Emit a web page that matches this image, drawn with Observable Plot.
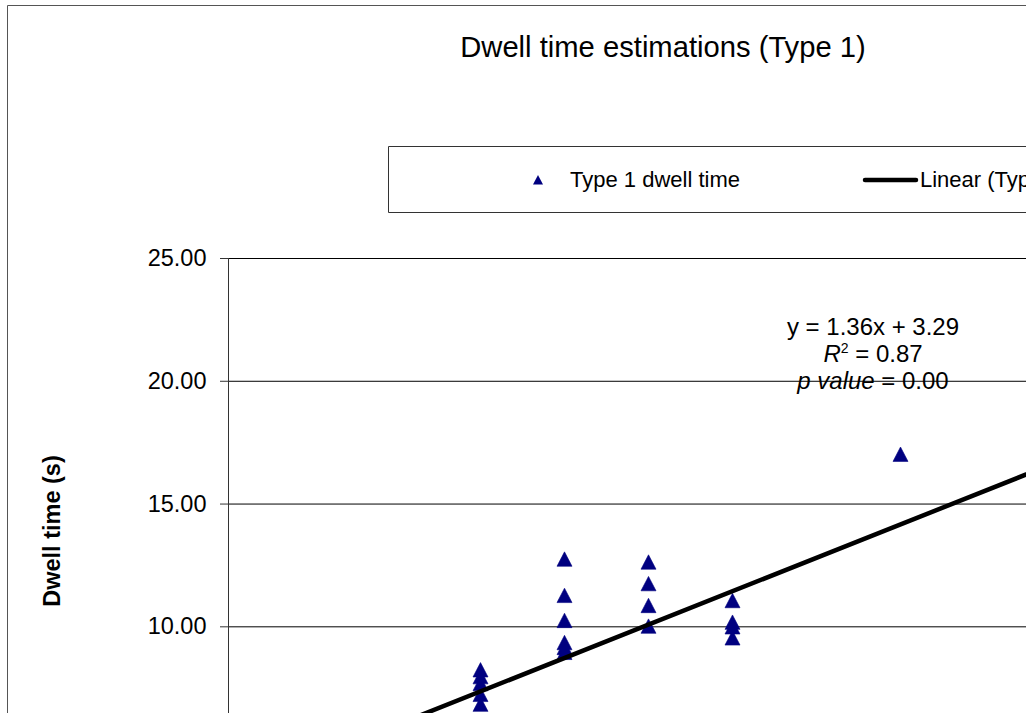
<!DOCTYPE html>
<html><head><meta charset="utf-8">
<script src="https://cdn.jsdelivr.net/npm/d3@7"></script>
<script src="https://cdn.jsdelivr.net/npm/@observablehq/plot@0.6"></script>
<style>
html,body{margin:0;padding:0;background:#fff;overflow:hidden;}
#chart svg{display:block;overflow:hidden;}
</style></head><body><div id="chart"></div>
<script>
// ---- data ----
const chartTitle = "Dwell time estimations (Type 1)";
const yLabel = "Dwell time (s)";
const seriesName = "Type 1 dwell time";
const trendName = "Linear (Type 1 dwell time)";
const yTicks = [10, 15, 20, 25];
const xValues = [3, 3, 3, 3, 3, 4, 4, 4, 4, 4, 4, 5, 5, 5, 5, 6, 6, 6, 6, 8];
const yValues = [8.25, 7.97, 7.69, 7.25, 6.85, 12.76, 11.28, 10.26, 9.36, 9.16, 8.96, 12.64, 11.76, 10.87, 10.03, 11.07, 10.19, 10.0, 9.55, 17.03];
const trendSlope = 1.36;
const trendIntercept = 3.29;
const trendRange = [0, 10];
const rSquared = 0.87;
const pValue = 0.00;

// ---- tables ----
const points = xValues.map((x, i) => ({x, y: yValues[i]}));
const trend = trendRange.map(x => ({x, y: trendSlope * x + trendIntercept}));

const W = 1026, H = 713;
const FONT = "'Liberation Sans', Arial, Helvetica, sans-serif";
const NAVY = "#000080";

const triangle = {
  draw(ctx) {
    ctx.moveTo(0, -7.2);
    ctx.lineTo(7.5, 7.2);
    ctx.lineTo(-7.5, 7.2);
    ctx.closePath();
  }
};

const svg = Plot.plot({
  width: W, height: H,
  marginTop: 258, marginLeft: 228, marginRight: 0, marginBottom: 0,
  style: {fontFamily: FONT, fontSize: "23.5px", color: "#000", background: "#fff", overflow: "hidden"},
  x: {domain: [0, 9.5], axis: null},
  y: {domain: [6.47, 25], axis: null},
  marks: [
    Plot.gridY(yTicks, {stroke: "#000", strokeOpacity: 1, strokeWidth: 1}),
    Plot.axisY(yTicks, {tickFormat: d => d.toFixed(2), tickSize: 8, tickPadding: 14, label: null, stroke: "#333", fill: "#000"}),
    Plot.ruleX([0], {stroke: "#333", strokeWidth: 1}),
    Plot.dot(points, {x: "x", y: "y", symbol: triangle, fill: NAVY, stroke: NAVY, strokeWidth: 0.6, clip: true}),
    Plot.line(trend, {x: "x", y: "y", stroke: "#000", strokeWidth: 4.5, clip: true})
  ]
});

const g = d3.select(svg);
// outer chart frame (left + top edges visible)
g.append("path").attr("d", `M7.5,${H}V5.5H${W}`).attr("fill", "none").attr("stroke", "#555").attr("stroke-width", 1);

// title
g.append("text").attr("x", 663).attr("y", 57).attr("text-anchor", "middle")
  .attr("font-family", FONT).attr("font-size", 29.2).attr("fill", "#000").text(chartTitle);

// legend box
const lg = g.append("g").attr("text-anchor", "start").attr("font-family", FONT).attr("font-size", 22).attr("fill", "#000");
lg.append("path").attr("d", `M${W},146.5H388.5V212.5H${W}`).attr("fill", "#fff").attr("stroke", "#333").attr("stroke-width", 1);
lg.append("path").attr("d", "M538,175L543,184.5L533,184.5Z").attr("fill", NAVY);
lg.append("text").attr("x", 570).attr("y", 187).text(seriesName);
lg.append("line").attr("x1", 865).attr("x2", 916).attr("y1", 180).attr("y2", 180)
  .attr("stroke", "#000").attr("stroke-width", 4.5).attr("stroke-linecap", "round");
lg.append("text").attr("x", 920).attr("y", 187).text(trendName);

// trendline equation
const eq = g.append("g").attr("font-family", FONT).attr("font-size", 24).attr("fill", "#000").attr("text-anchor", "middle");
eq.append("text").attr("x", 873).attr("y", 335)
  .text(`y = ${trendSlope.toFixed(2)}x + ${trendIntercept.toFixed(2)}`);
const r2 = eq.append("text").attr("x", 873).attr("y", 362);
r2.append("tspan").attr("font-style", "italic").text("R");
r2.append("tspan").attr("font-size", 14).attr("dy", -9).text("2");
r2.append("tspan").attr("dy", 9).text(` = ${rSquared.toFixed(2)}`);
const pv = eq.append("text").attr("x", 873).attr("y", 389);
pv.append("tspan").attr("font-style", "italic").text("p value");
pv.append("tspan").text(` = ${pValue.toFixed(2)}`);

// y axis label
g.append("text").attr("transform", "translate(60,531) rotate(-90)").attr("text-anchor", "middle")
  .attr("font-family", FONT).attr("font-size", 23.5).attr("font-weight", "bold").attr("fill", "#000").text(yLabel);

document.getElementById("chart").appendChild(svg);
</script></body></html>
